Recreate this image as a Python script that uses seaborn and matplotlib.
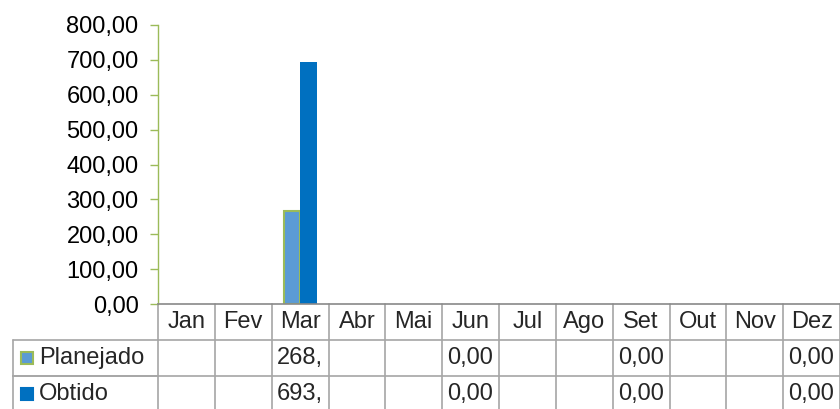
import numpy as np
import pandas as pd
import matplotlib
matplotlib.use("Agg")
import matplotlib.pyplot as plt
import matplotlib.transforms as mtransforms
from matplotlib.patches import Rectangle
from matplotlib.ticker import FuncFormatter
import seaborn as sns

# Dados
meses = ["Jan", "Fev", "Mar", "Abr", "Mai", "Jun", "Jul", "Ago", "Set", "Out", "Nov", "Dez"]
planejado = [np.nan, np.nan, 268.0, np.nan, np.nan, 0.0, np.nan, np.nan, 0.0, np.nan, np.nan, 0.0]
obtido = [np.nan, np.nan, 693.0, np.nan, np.nan, 0.0, np.nan, np.nan, 0.0, np.nan, np.nan, 0.0]
series = ["Planejado", "Obtido"]
y_ticks = [0, 100, 200, 300, 400, 500, 600, 700, 800]

cor_planejado = "#5B9BD5"
borda_planejado = "#9BBB59"
cor_obtido = "#0070C0"
cor_grade = "#A6A6A6"

sns.set_style("white")
plt.rcParams["font.family"] = ["Liberation Sans", "DejaVu Sans"]
FS = 17


def fmt_br(v):
    return f"{v:.2f}".replace(".", ",")


def texto_celula(v):
    # Excel corta o texto quando nao cabe na celula
    if pd.isna(v):
        return ""
    s = fmt_br(v)
    return s[:4] if len(s) > 4 else s


df = pd.DataFrame({
    "mes": meses * 2,
    "valor": planejado + obtido,
    "serie": ["Planejado"] * 12 + ["Obtido"] * 12,
})

W, H = 840, 409
fig = plt.figure(figsize=(W / 100, H / 100), dpi=100)
x0, x1 = 158, 840
y_top, y_base = 25, 304
ax = fig.add_axes([x0 / W, 1 - y_base / H, (x1 - x0) / W, (y_base - y_top) / H])

sns.barplot(data=df, x="mes", y="valor", hue="serie", order=meses, hue_order=series,
            palette=[cor_planejado, cor_obtido], width=0.58, ax=ax, legend=False,
            saturation=1, linewidth=0)

# borda verde nas barras planejadas
for cont, nome in zip(ax.containers, series):
    for p in cont.patches:
        if nome == "Planejado" and p.get_height() > 0:
            p.set_edgecolor(borda_planejado)
            p.set_linewidth(1.5)

ax.set_xlim(-0.5, 11.5)
ax.set_ylim(0, 800)
ax.set_yticks(y_ticks)
ax.yaxis.set_major_formatter(FuncFormatter(lambda v, _: fmt_br(v)))
ax.tick_params(axis="y", which="major", left=True, length=6, width=1, color=borda_planejado,
               labelsize=FS, pad=8, labelcolor="black")
ax.set_xticks([])
ax.set_xlabel("")
ax.set_ylabel("")
for s in ["top", "right"]:
    ax.spines[s].set_visible(False)
ax.spines["left"].set_color(borda_planejado)
ax.spines["left"].set_linewidth(1)
ax.spines["bottom"].set_color("#898989")
ax.spines["bottom"].set_linewidth(1.2)

# Tabela de dados abaixo do eixo
row_h = 36 / (y_base - y_top)
trans = mtransforms.blended_transform_factory(ax.transData, ax.transAxes)
n = len(meses)
# linhas verticais das colunas
for i in range(n + 1):
    ax.plot([i - 0.5, i - 0.5], [0, -3 * row_h], transform=trans, color=cor_grade,
            lw=1.2, clip_on=False)
# linhas horizontais
for k in range(1, 4):
    ax.plot([-0.5, n - 0.5], [-k * row_h, -k * row_h], transform=trans, color=cor_grade,
            lw=1.2, clip_on=False)
# cabecalho
for i, m in enumerate(meses):
    ax.text(i, -0.5 * row_h, m, transform=trans, ha="center", va="center", fontsize=FS)

# coluna dos rotulos (coordenadas de figura em pixels)
px = mtransforms.Affine2D().scale(1 / W, 1 / H) + fig.transFigure
lbl_left = 13
for k, (nome, vals, cor) in enumerate(zip(series, [planejado, obtido], [cor_planejado, cor_obtido])):
    ytop = y_base + 36 * (k + 1)
    ybot = ytop + 36
    fig.add_artist(plt.Line2D([lbl_left, x0], [H - ytop, H - ytop], transform=px,
                              color=cor_grade, lw=1.2))
    fig.add_artist(plt.Line2D([lbl_left, x0], [H - ybot, H - ybot], transform=px,
                              color=cor_grade, lw=1.2))
    fig.add_artist(plt.Line2D([lbl_left, lbl_left], [H - ytop, H - ybot], transform=px,
                              color=cor_grade, lw=1.2))
    ymid = H - (ytop + 18)
    ec = borda_planejado if nome == "Planejado" else cor
    fig.add_artist(Rectangle((21, ymid - 6), 12, 12, transform=px, facecolor=cor,
                             edgecolor=ec, lw=1.5))
    fig.text(39 / W, ymid / H, nome, ha="left", va="center", fontsize=FS)
    for i, v in enumerate(vals):
        ax.text(i - 0.5 + 5 / 56.8, -(k + 1.5) * row_h, texto_celula(v), transform=trans,
                ha="left", va="center", fontsize=FS)

fig.savefig("out.png", dpi=100)
